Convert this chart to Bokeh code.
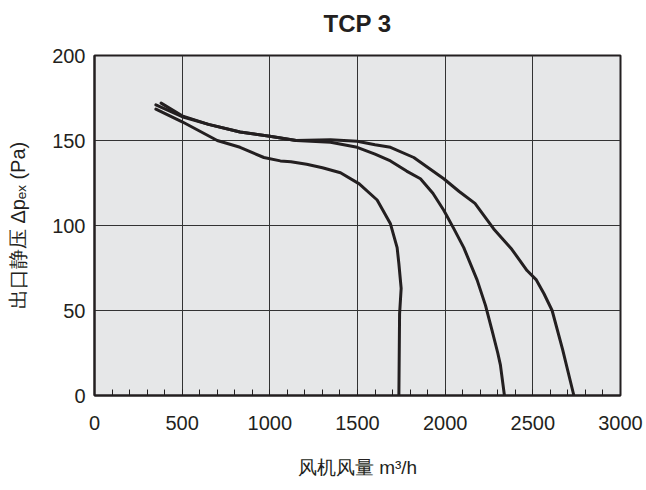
from bokeh.plotting import figure
from bokeh.models import Range1d, FixedTicker, LinearAxis
from bokeh.embed import file_html
from bokeh.resources import INLINE

# ---- data ----
x_ticks = [0, 500, 1000, 1500, 2000, 2500, 3000]
y_ticks = [0, 50, 100, 150, 200]

curve_a_x = [350, 500, 700, 830, 966, 1060, 1120, 1210, 1300, 1403, 1510, 1612, 1688, 1726, 1736, 1749, 1740, 1736]
curve_a_y = [168.5, 161, 150, 146, 140, 138, 137.5, 136, 134, 131, 124.5, 115, 101, 87, 77.5, 63, 48, 0]

curve_b_x = [350, 500, 650, 830, 1000, 1150, 1346, 1498, 1600, 1688, 1780, 1859, 1930, 1992, 2050, 2106, 2182, 2230, 2268, 2300, 2315, 2338]
curve_b_y = [171, 164, 159.5, 155, 152.5, 150, 149, 146, 142, 138, 132, 127.5, 119, 109, 98, 87, 68, 53, 38, 25, 18, 0]

curve_c_x = [380, 500, 650, 830, 1000, 1150, 1346, 1498, 1600, 1688, 1821, 1992, 2080, 2170, 2277, 2380, 2467, 2520, 2563, 2610, 2670, 2734]
curve_c_y = [172, 164.5, 159.5, 155, 152.5, 150, 150.4, 149.6, 147.5, 146, 140, 127.5, 120, 113, 98, 86, 73.5, 68, 60, 50, 27, 0]

title_text = "TCP 3"
x_label = "风机风量 m³/h"
y_label = "出口静压 Δpₑₓ (Pa)"

ink = "#231f20"
font = "Liberation Sans"

p = figure(width=646, height=490, output_backend="svg", toolbar_location=None,
           x_range=Range1d(0, 3000), y_range=Range1d(0, 200))
p.min_border_left = 94
p.min_border_right = 26
p.min_border_top = 55
p.min_border_bottom = 95

p.background_fill_color = "#e6e7e8"
p.border_fill_color = "white"
p.outline_line_color = ink
p.outline_line_width = 2

xa = p.below[0]
ya = p.left[0]

# title drawn as the label of a bare axis above the frame
top = LinearAxis(ticker=FixedTicker(ticks=[]), axis_label=title_text)
top.axis_line_color = None
top.major_tick_line_color = None
top.minor_tick_line_color = None
top.major_label_text_font_size = "0px"
top.major_label_standoff = 0
top.axis_label_standoff = 19
top.axis_label_text_font = font
top.axis_label_text_font_style = "bold"
top.axis_label_text_font_size = "24px"
top.axis_label_text_color = ink
p.add_layout(top, "above")

# grid
p.xgrid.ticker = FixedTicker(ticks=x_ticks)
p.ygrid.ticker = FixedTicker(ticks=y_ticks)
for g in (p.xgrid, p.ygrid):
    g.grid_line_color = "#333333"
    g.grid_line_width = 1
    g.grid_line_alpha = 1

# x axis
xa.ticker = FixedTicker(ticks=x_ticks, minor_ticks=list(range(0, 3001, 100)))
xa.axis_line_color = ink
xa.axis_line_width = 2
xa.major_tick_in = 0
xa.major_tick_out = 0
xa.minor_tick_in = 6
xa.minor_tick_out = 0
xa.minor_tick_line_color = ink
xa.minor_tick_line_width = 1
xa.major_label_standoff = 20
xa.major_label_text_font = font
xa.major_label_text_font_size = "20px"
xa.major_label_text_color = ink
xa.axis_label = x_label
xa.axis_label_standoff = 24
xa.axis_label_text_font = font
xa.axis_label_text_font_style = "normal"
xa.axis_label_text_font_size = "19px"
xa.axis_label_text_color = ink

# y axis
ya.ticker = FixedTicker(ticks=y_ticks)
ya.axis_line_color = ink
ya.axis_line_width = 2
ya.major_tick_in = 0
ya.major_tick_out = 0
ya.minor_tick_line_color = None
ya.major_label_standoff = 9
ya.major_label_text_font = font
ya.major_label_text_font_size = "20px"
ya.major_label_text_color = ink
ya.axis_label = y_label
ya.axis_label_standoff = 20
ya.axis_label_text_font = font
ya.axis_label_text_font_style = "normal"
ya.axis_label_text_font_size = "20px"
ya.axis_label_text_color = ink

# curves
for xs, ys in ((curve_a_x, curve_a_y), (curve_b_x, curve_b_y), (curve_c_x, curve_c_y)):
    p.line(xs, ys, line_color=ink, line_width=3, line_join="round", line_cap="round")

open("out.html", "w").write(file_html(p, INLINE))
